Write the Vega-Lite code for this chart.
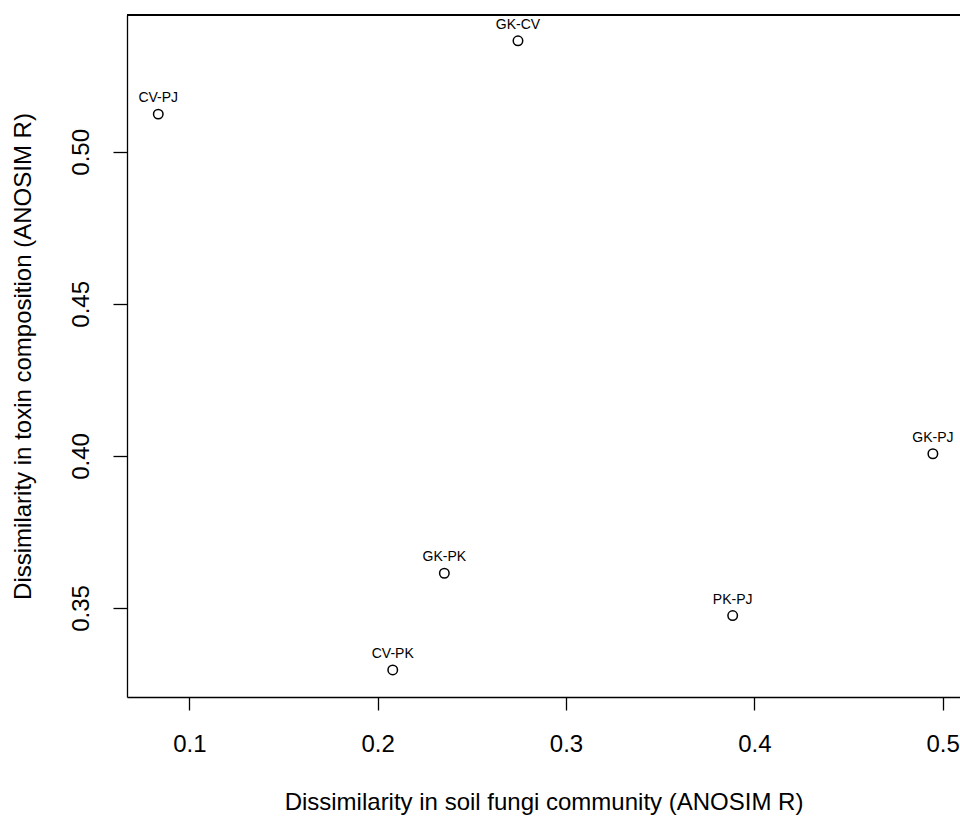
{
  "$schema": "https://vega.github.io/schema/vega-lite/v6.json",
  "autosize": "none",
  "width": 833,
  "height": 682,
  "padding": {"left": 127, "top": 15, "right": 0, "bottom": 121},
  "background": "white",
  "config": {
    "view": {"stroke": null},
    "font": "Liberation Sans"
  },
  "data": {
    "values": [
      {"pair": "CV-PJ", "fungi": 0.0835, "toxin": 0.5124},
      {"pair": "GK-CV", "fungi": 0.2745, "toxin": 0.5365},
      {"pair": "GK-PJ", "fungi": 0.4948, "toxin": 0.4007},
      {"pair": "GK-PK", "fungi": 0.2354, "toxin": 0.3614},
      {"pair": "CV-PK", "fungi": 0.208, "toxin": 0.3296},
      {"pair": "PK-PJ", "fungi": 0.3885, "toxin": 0.3475}
    ]
  },
  "encoding": {
    "x": {
      "field": "fungi", "type": "quantitative",
      "scale": {"domain": [0.0669, 0.5092], "nice": false, "zero": false},
      "axis": {
        "title": "Dissimilarity in soil fungi community (ANOSIM R)",
        "values": [0.1, 0.2, 0.3, 0.4, 0.5], "format": ".1f",
        "grid": false, "domain": true, "domainColor": "black", "domainWidth": 1.3,
        "tickColor": "black", "tickSize": 13, "tickWidth": 1.3,
        "labelFontSize": 24, "labelColor": "black", "labelPadding": 22,
        "labelFont": "Liberation Sans",
        "titleFontSize": 24, "titleFontWeight": "normal", "titleColor": "black",
        "titleFont": "Liberation Sans", "titlePadding": 34
      }
    },
    "y": {
      "field": "toxin", "type": "quantitative",
      "scale": {"domain": [0.3207, 0.545], "nice": false, "zero": false},
      "axis": {
        "title": "Dissimilarity in toxin composition (ANOSIM R)",
        "values": [0.35, 0.40, 0.45, 0.50], "format": ".2f",
        "grid": false, "domain": true, "domainColor": "black", "domainWidth": 1.3,
        "tickColor": "black", "tickSize": 14, "tickWidth": 1.3,
        "labelFontSize": 24, "labelColor": "black", "labelPadding": 20,
        "labelAngle": -90, "labelAlign": "center", "labelBaseline": "bottom",
        "labelFont": "Liberation Sans",
        "titleFontSize": 24, "titleFontWeight": "normal", "titleColor": "black",
        "titleFont": "Liberation Sans", "titlePadding": 34
      }
    }
  },
  "layer": [
    {
      "mark": {"type": "rule", "color": "black", "strokeWidth": 1.3},
      "encoding": {"x": null, "y": {"datum": 0.545, "type": "quantitative"}}
    },
    {
      "mark": {"type": "point", "shape": "circle", "filled": false, "color": "black", "size": 90, "strokeWidth": 1.5, "opacity": 1}
    },
    {
      "mark": {"type": "text", "fontSize": 14, "dy": -12, "baseline": "alphabetic", "align": "center", "color": "black", "font": "Liberation Sans"},
      "encoding": {"text": {"field": "pair"}}
    }
  ]
}
